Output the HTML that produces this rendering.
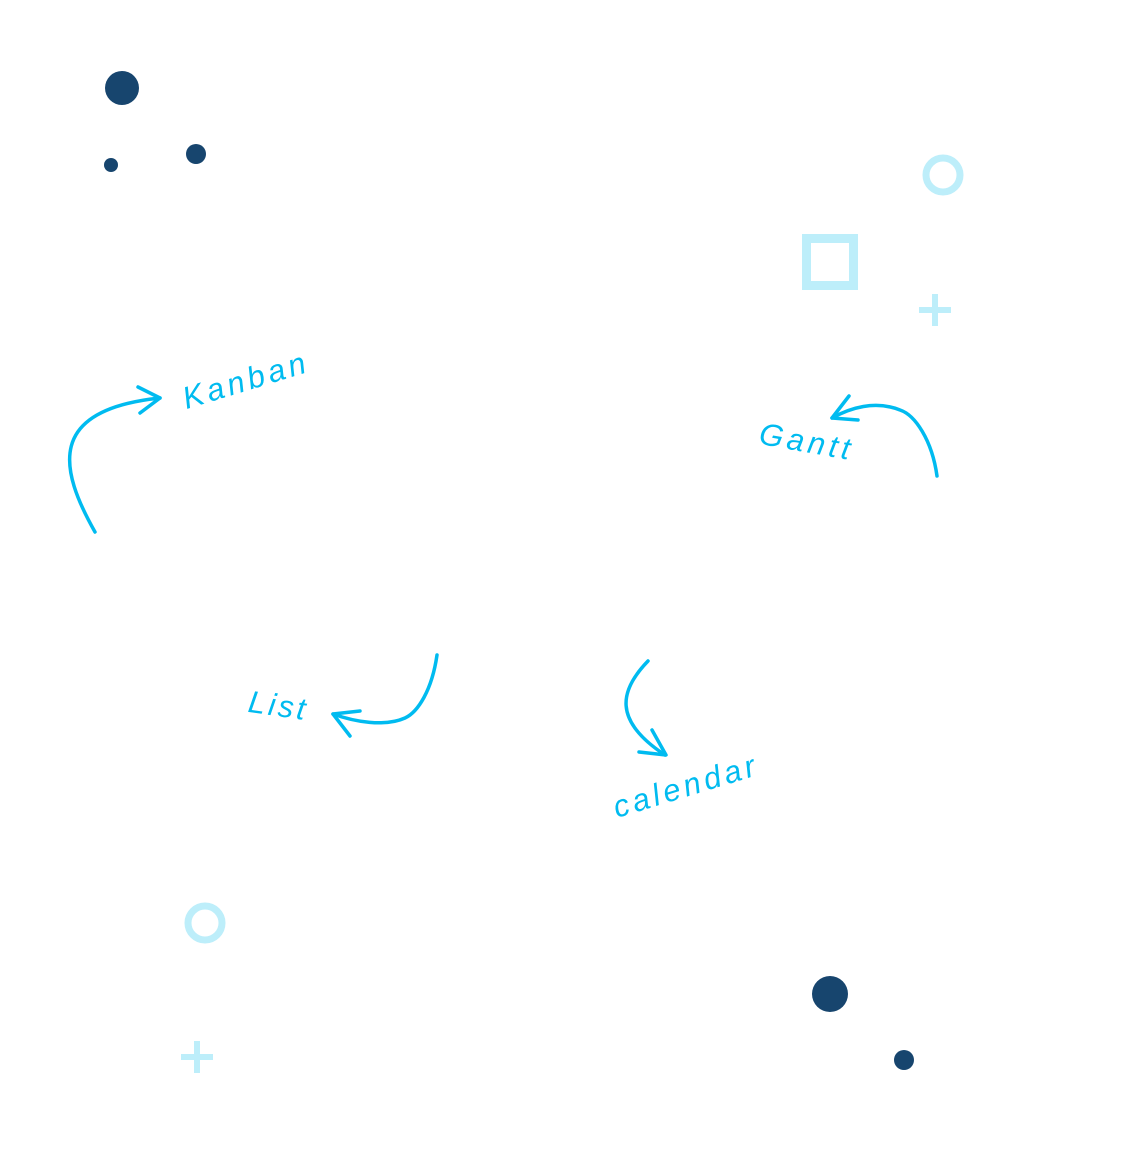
<!DOCTYPE html>
<html><head><style>body{margin:0;background:#fff}svg{display:block}</style></head><body>
<svg width="1128" height="1156" xmlns="http://www.w3.org/2000/svg">
<g fill="#17456e">
<circle cx="122" cy="88" r="17"/><circle cx="111" cy="165" r="7"/><circle cx="196" cy="154" r="10"/>
<circle cx="830" cy="994" r="18"/><circle cx="904" cy="1060" r="10"/>
</g>
<g fill="none" stroke="#bdeefa">
<circle cx="943" cy="175" r="17" stroke-width="7"/>
<rect x="806.5" y="238.5" width="47" height="47" stroke-width="9"/>
<circle cx="205" cy="923" r="17" stroke-width="7"/>
<path d="M935 294V326M919 310H951M197 1041V1073M181 1057H213" stroke-width="6"/>
</g>
<g fill="none" stroke="#00bbf0" stroke-width="3.5" stroke-linecap="round" stroke-linejoin="round">
<path d="M95 532C60 470 45 410 160 398"/><path d="M138 387L160 398L140 413"/>
<path d="M937 476C932 440 915 415 900 410C875 400 850 408 832 418"/><path d="M849 396L832 418L858 420"/>
<path d="M437 655C432 690 418 712 405 718C385 727 355 722 333 714"/><path d="M350 736L333 714L360 711"/>
<path d="M648 661C620 690 612 720 665 755"/><path d="M652 730L666 755L639 752"/>
</g>
<g fill="#00bbf0" font-family="Liberation Sans, sans-serif" font-style="italic" font-size="31" text-anchor="middle">
<text transform="translate(249,390) rotate(-17)" letter-spacing="4">Kanban</text>
<text transform="translate(805,452) rotate(10)" letter-spacing="4">Gantt</text>
<text transform="translate(277,716) rotate(8)" letter-spacing="3">List</text>
<text transform="translate(689,796) rotate(-17)" letter-spacing="4">calendar</text>
</g>
</svg>
</body></html>
